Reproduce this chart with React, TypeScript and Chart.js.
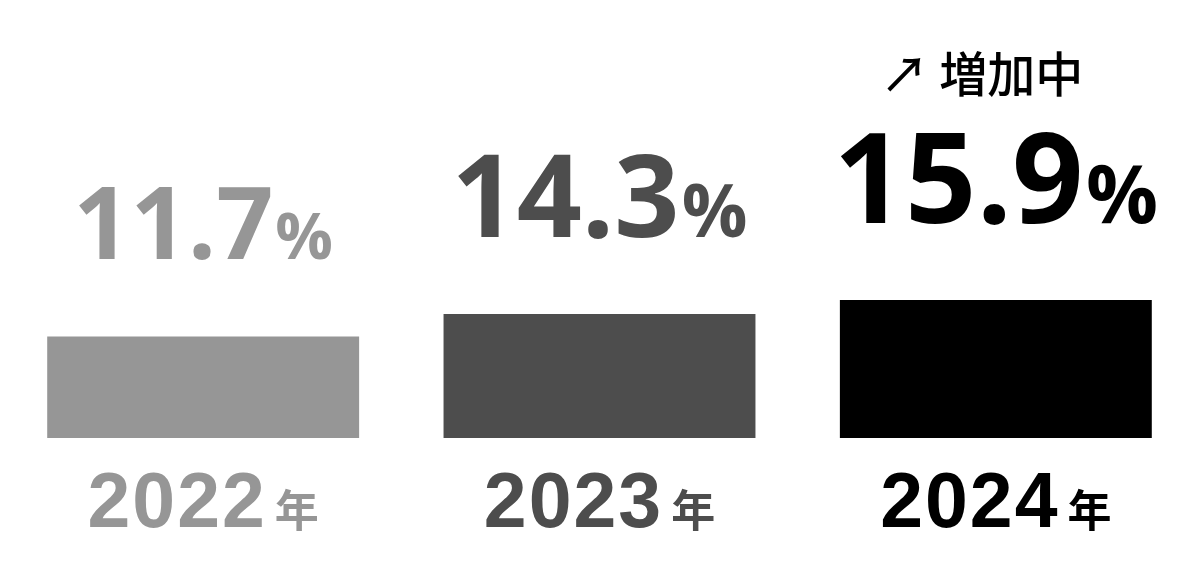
import React, { useEffect, useRef } from "react";
import { Chart, registerables } from "chart.js";

Chart.register(...registerables);

// ---- data ----
const years: string[] = ["2022", "2023", "2024"];
const yearSuffix = "年";
const rates: number[] = [11.7, 14.3, 15.9];
const rateSuffix = "%";
const highlightNote = "↗ 増加中";
const yMin = 0;
const yMax = 50;

// ---- style ----
const barColors = ["#969696", "#4d4d4d", "#000000"];
const valueFontSizes = [100, 114, 125];
const NUM_FONT = '"Open Sans", "Noto Sans CJK JP", sans-serif';
const YEAR_FONT = '"Liberation Sans", Arial, sans-serif';
const CJK_FONT = '"Noto Sans CJK JP", "Noto Sans", sans-serif';

const labelPlugin = {
  id: "barLabels",
  afterDatasetsDraw(chart: any) {
    const ctx: CanvasRenderingContext2D = chart.ctx;
    const meta = chart.getDatasetMeta(0);
    const area = chart.chartArea;
    meta.data.forEach((bar: any, i: number) => {
      const x = bar.x;
      const top = bar.y;
      const color = barColors[i];
      ctx.save();
      ctx.fillStyle = color;
      ctx.textBaseline = "alphabetic";
      ctx.textAlign = "left";
      // value label
      const fs = valueFontSizes[i];
      const numText = rates[i].toFixed(1);
      ctx.font = `700 ${fs}px ${NUM_FONT}`;
      const wNum = ctx.measureText(numText).width;
      const pfs = Math.round(fs * 0.64);
      ctx.font = `700 ${pfs}px ${NUM_FONT}`;
      const wPct = ctx.measureText(rateSuffix).width;
      const gap = fs * 0.02;
      const total = wNum + gap + wPct;
      const baseY = top - 77;
      const sx = x - total / 2;
      ctx.font = `700 ${fs}px ${NUM_FONT}`;
      ctx.fillText(numText, sx, baseY);
      ctx.font = `700 ${pfs}px ${NUM_FONT}`;
      ctx.fillText(rateSuffix, sx + wNum + gap, baseY);

      // year label
      const yfs = 77;
      const yls = "2px";
      ctx.font = `700 ${yfs}px ${YEAR_FONT}`;
      (ctx as any).letterSpacing = yls;
      const wY = ctx.measureText(years[i]).width;
      (ctx as any).letterSpacing = "0px";
      ctx.font = `700 ${44}px ${CJK_FONT}`;
      const wS = ctx.measureText(yearSuffix).width;
      const sgap = 8;
      const yTotal = wY + sgap + wS;
      const yBase = area.bottom + 89;
      const ysx = x - yTotal / 2;
      ctx.font = `700 ${yfs}px ${YEAR_FONT}`;
      (ctx as any).letterSpacing = yls;
      ctx.fillText(years[i], ysx, yBase);
      (ctx as any).letterSpacing = "0px";
      ctx.font = `700 ${44}px ${CJK_FONT}`;
      ctx.fillText(yearSuffix, ysx + wY + sgap, yBase);

      // note for the last bar
      if (i === rates.length - 1) {
        ctx.font = `500 48px ${CJK_FONT}`;
        ctx.fillStyle = "#000000";
        const wN = ctx.measureText(highlightNote).width;
        ctx.fillText(highlightNote, x - wN / 2 - 14, 92);
      }
      ctx.restore();
    });
  },
};

export default function App() {
  const ref = useRef<HTMLCanvasElement | null>(null);
  useEffect(() => {
    if (!ref.current) return;
    const chart = new Chart(ref.current, {
      type: "bar",
      data: {
        labels: years,
        datasets: [
          {
            data: rates,
            backgroundColor: barColors,
            borderWidth: 0,
            barPercentage: 0.787,
            categoryPercentage: 1,
          },
        ],
      },
      options: {
        animation: false,
        responsive: true,
        maintainAspectRatio: false,
        layout: { padding: { left: 5, right: 6, top: 4, bottom: 137 } },
        plugins: { legend: { display: false }, tooltip: { enabled: false } },
        scales: {
          x: { display: false, grid: { display: false } },
          y: { display: false, min: yMin, max: yMax },
        },
      },
      plugins: [labelPlugin],
    });
    return () => chart.destroy();
  }, []);
  return (
    <div style={{ position: "fixed", left: 0, top: 0, width: 1200, height: 575, background: "#fff" }}>
      <canvas ref={ref} />
    </div>
  );
}
